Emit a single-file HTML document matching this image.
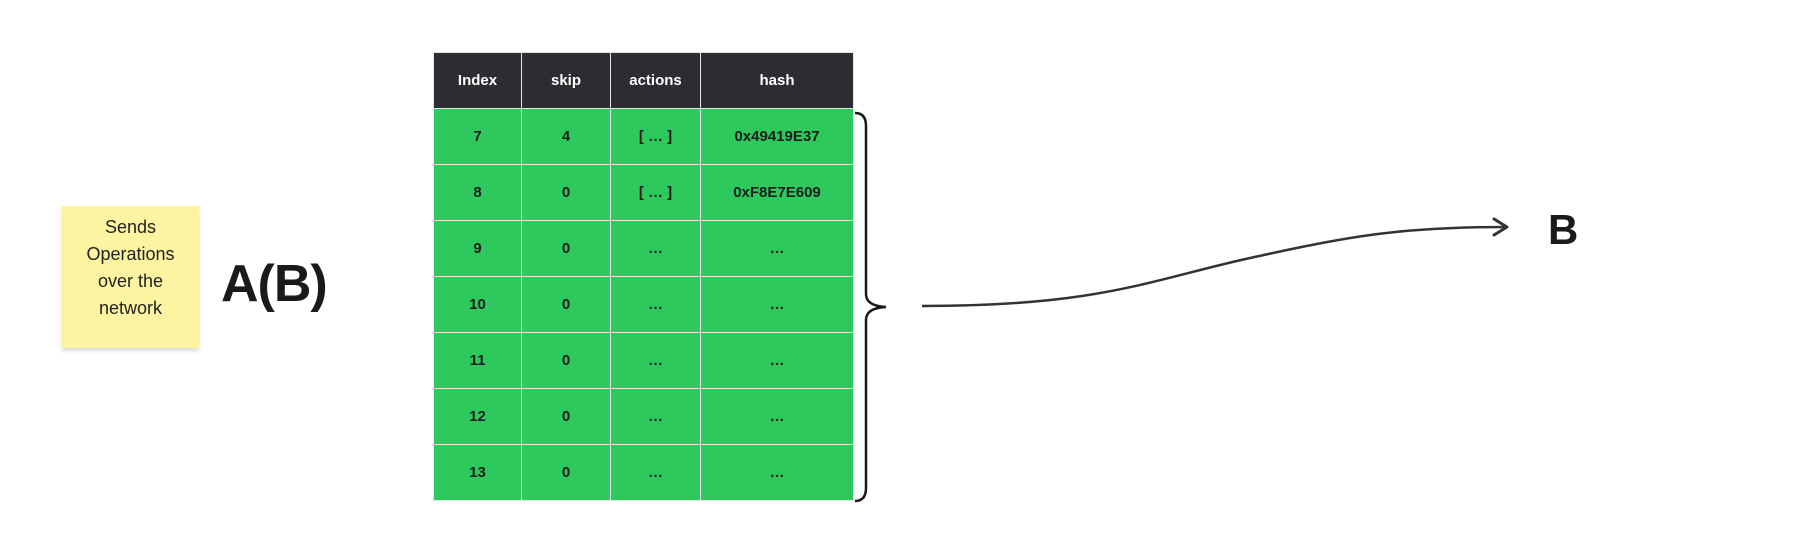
<!DOCTYPE html>
<html><head><meta charset="utf-8"><style>
body{margin:0;width:1805px;height:553px;background:#fff;position:relative;overflow:hidden;font-family:"Liberation Sans",sans-serif}
#tbl{position:absolute;left:433px;top:52px;border-collapse:collapse;table-layout:fixed}
#tbl td,#tbl th{border:1.5px solid #e6e6e6;text-align:center;font-weight:bold;font-size:15px;color:#1d1d1d;padding:0}
#tbl th{background:#2b2d31;color:#fff;height:55px}
#tbl td{background:#2ec95c;height:55px}
.sticky{position:absolute;left:62px;top:206px;width:137px;height:142px;background:#fdf4a2;box-shadow:0 3px 4px rgba(0,0,0,.15);text-align:center;font-size:18px;line-height:27px;color:#222;padding-top:8px;box-sizing:border-box}
.big{position:absolute;font-weight:bold;color:#1a1a1a}
</style></head><body>
<div class="sticky">Sends<br>Operations<br>over the<br>network</div>
<div class="big" style="left:221px;top:254px;font-size:52px;letter-spacing:-1px">A(B)</div>
<div class="big" style="left:1548px;top:206px;font-size:42px">B</div>
<table id="tbl">
<colgroup><col style="width:88px"><col style="width:89px"><col style="width:90px"><col style="width:153px"></colgroup>
<tr><th>Index</th><th>skip</th><th>actions</th><th>hash</th></tr>
<tr><td>7</td><td>4</td><td>[ … ]</td><td>0x49419E37</td></tr>
<tr><td>8</td><td>0</td><td>[ … ]</td><td>0xF8E7E609</td></tr>
<tr><td>9</td><td>0</td><td>…</td><td>…</td></tr>
<tr><td>10</td><td>0</td><td>…</td><td>…</td></tr>
<tr><td>11</td><td>0</td><td>…</td><td>…</td></tr>
<tr><td>12</td><td>0</td><td>…</td><td>…</td></tr>
<tr><td>13</td><td>0</td><td>…</td><td>…</td></tr>
</table>
<svg width="1805" height="553" style="position:absolute;left:0;top:0">
<path d="M855 113 Q866 113 866 126 L866 294 Q866 306 886 307 Q866 308 866 320 L866 488 Q866 501 855 501" fill="none" stroke="#1a1a1a" stroke-width="2.5"/>
<path d="M922 306 C1100 306 1150 280 1250 258 C1350 236 1400 227 1506 227" fill="none" stroke="#333" stroke-width="2.5"/>
<path d="M1494 219 L1507 227 L1494 235" fill="none" stroke="#333" stroke-width="3" stroke-linecap="round" stroke-linejoin="round"/>
</svg>
</body></html>
